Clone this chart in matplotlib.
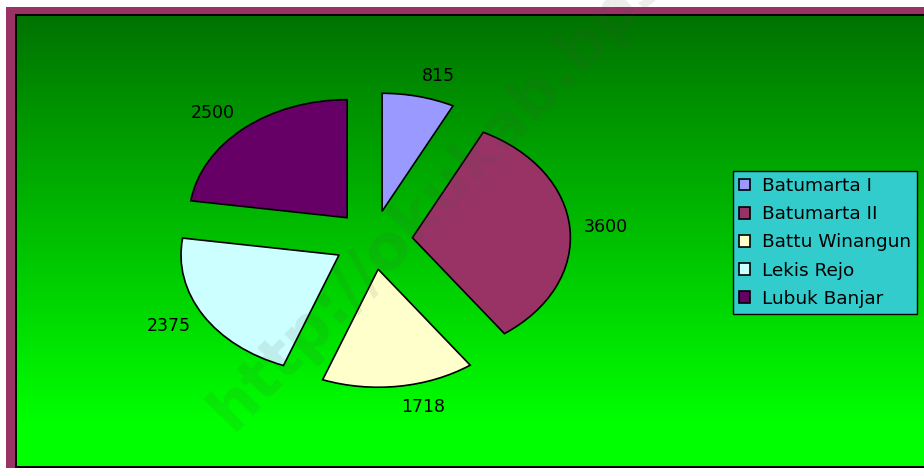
import numpy as np
import matplotlib.pyplot as plt
from matplotlib.patches import Rectangle

plt.rcParams['font.family'] = ['DejaVu Sans']

# data
names = ['Batumarta I', 'Batumarta II', 'Battu Winangun', 'Lekis Rejo', 'Lubuk Banjar']
values = [815, 3600, 1718, 2375, 2500]
colors = ['#9999FF', '#993366', '#FFFFCC', '#CCFFFF', '#660066']

W, H = 924, 468
fig = plt.figure(figsize=(W / 100, H / 100), dpi=100)
fig.patch.set_facecolor('white')

# background: maroon frame + green gradient (pixel coords)
bg = fig.add_axes([0, 0, 1, 1])
bg.add_patch(Rectangle((6, 7), W, H, facecolor='#993366', edgecolor='none', zorder=1))
bg.add_patch(Rectangle((15, 14), W, 454, facecolor='black', edgecolor='none', zorder=2))
grad = np.linspace(0, 1, 256)
g = np.clip(0.45 + 0.55 * grad / 0.9, 0, 1)
img = np.zeros((256, 1, 3))
img[:, 0, 1] = g
bg.imshow(img, extent=(17, W, 466, 16), aspect='auto', interpolation='bilinear', zorder=3)
bg.set_xlim(0, W)
bg.set_ylim(H, 0)
bg.axis('off')

# pie axes: radius 1 = 158 px wide, 118 px tall, centre at (373, 240)
cx, cy, rx, ry = 373, 240, 158, 118
ax = fig.add_axes([0, 0, 1, 1])
ax.patch.set_alpha(0)
wedges, texts = ax.pie(values, colors=colors, labels=[str(v) for v in values],
                       startangle=90, counterclock=False, explode=[0.25] * 5,
                       labeldistance=1.09,
                       wedgeprops=dict(edgecolor='black', linewidth=1.2),
                       textprops=dict(fontsize=12.5, color='black'))
# push labels a bit further out vertically
for w, t in zip(wedges, texts):
    wx, wy = w.center
    x, y = t.get_position()
    t.set_position((x, wy + (y - wy) * 1.08))
ax.set_aspect('auto')
ax.set_xlim(-cx / rx, (W - cx) / rx)
ax.set_ylim((cy - H) / ry, cy / ry)
ax.axis('off')

leg = ax.legend(wedges, names, loc='upper left',
                bbox_to_anchor=(733 / W, 1 - 171 / H), bbox_transform=fig.transFigure,
                borderaxespad=0, fontsize=13.3, frameon=True, fancybox=False,
                framealpha=1, edgecolor='black', facecolor='#33CCCC',
                handlelength=0.6, handleheight=0.6, handletextpad=0.65,
                labelspacing=0.55, borderpad=0.33)
leg.get_frame().set_linewidth(1)

# watermark
fig.text(232 / W, 1 - 432 / H, 'http://okukab.bps.go.id', fontsize=45,
         fontweight='bold', color=(0.3, 0.3, 0.25), alpha=0.1,
         rotation=46, rotation_mode='anchor', ha='left', va='baseline', zorder=10)

fig.savefig('out.png', dpi=100)
